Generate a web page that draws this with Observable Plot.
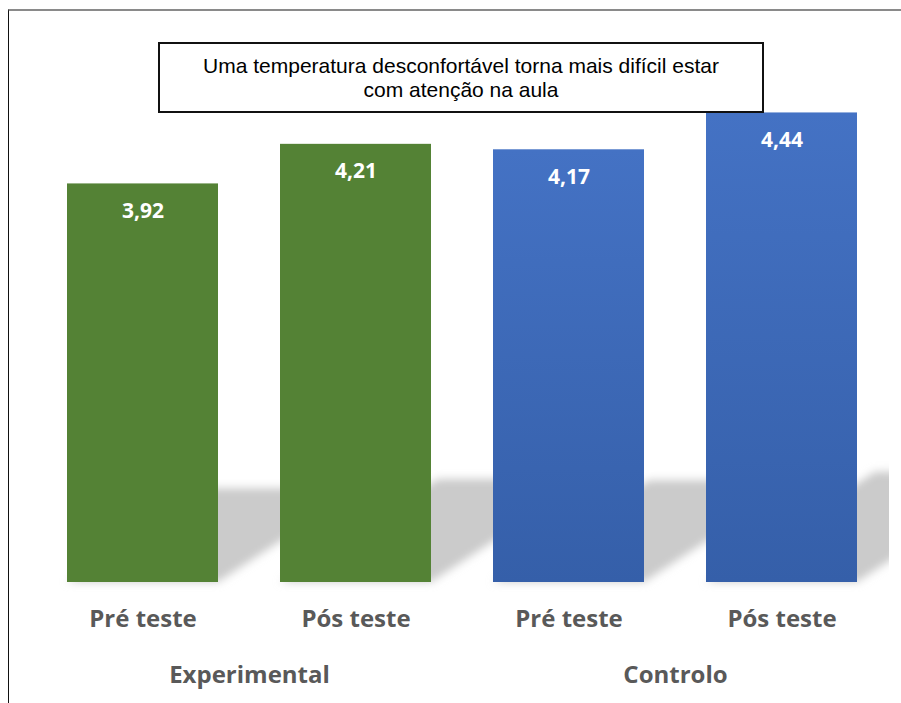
<!DOCTYPE html>
<html><head><meta charset="utf-8">
<script src="https://cdn.jsdelivr.net/npm/d3@7"></script>
<script src="https://cdn.jsdelivr.net/npm/@observablehq/plot@0.6"></script>
<style>
html,body{margin:0;padding:0;background:#fff;}
#wrap{position:relative;width:901px;height:703px;overflow:hidden;}
#chart{position:absolute;left:0;top:0;}
#frame{position:absolute;left:8px;top:9px;width:1000px;height:800px;border-top:2px solid #8a8a8a;border-left:1px solid #111;pointer-events:none;}
#title{position:absolute;left:158px;top:42px;width:602px;height:67px;border:2px solid #111;display:flex;align-items:center;justify-content:center;text-align:center;font-family:"Liberation Sans",Arial,sans-serif;font-size:21px;line-height:24px;color:#000;background:#fff;}
</style></head>
<body>
<div id="wrap"><div id="chart"></div><div id="frame"></div><div id="title">Uma temperatura desconfortável torna mais difícil estar<br>com atenção na aula</div></div>
<script>
const groups = ["Experimental", "Experimental", "Controlo", "Controlo"];
const phases = ["Pré teste", "Pós teste", "Pré teste", "Pós teste"];
const values = [3.92, 4.21, 4.17, 4.44];
const groupNames = ["Experimental", "Controlo"];

const rows = groups.map((g, i) => ({group: g, phase: phases[i], value: values[i], key: g + "|" + phases[i]}));
const groupRows = groupNames.map(g => {
  const r = rows.filter(d => d.group === g);
  return {group: g, first: r[0].key, last: r[r.length - 1].key};
});

function shadowRender(index, scales, vals, dims) {
  const {x, y} = scales;
  const bw = x.bandwidth();
  const yb = y(1);
  const g = d3.create("svg:g");
  const defs = g.append("defs");
  defs.append("filter").attr("id", "shBlur").attr("x", "-20%").attr("y", "-20%").attr("width", "140%").attr("height", "140%")
    .append("feGaussianBlur").attr("stdDeviation", 4);
  defs.append("clipPath").attr("id", "shClip").append("rect")
    .attr("x", dims.marginLeft).attr("y", dims.marginTop)
    .attr("width", dims.width - dims.marginLeft - dims.marginRight)
    .attr("height", dims.height - dims.marginTop - dims.marginBottom + 10);
  const inner = g.append("g").attr("clip-path", "url(#shClip)").append("g").attr("filter", "url(#shBlur)");
  for (const i of index) {
    const d = rows[i];
    const x0 = x(d.key);
    const h = yb - y(d.value);
    const dx = 0.36 * h, dy = 0.235 * h;
    const pts = [[x0, yb], [x0 + bw, yb], [x0 + bw + dx, yb - dy], [x0 + dx, yb - dy]];
    inner.append("polygon").attr("points", pts.map(p => p.join(",")).join(" ")).attr("fill", "#cbcbcb");
  }
  return g.node();
}

function blueRender(index, scales, vals, dims, ctx, next) {
  const g = next(index, scales, vals, dims, ctx);
  const defs = d3.create("svg:defs");
  const lg = defs.append("linearGradient").attr("id", "blueGrad").attr("x1", 0).attr("y1", 0).attr("x2", 0).attr("y2", 1);
  lg.append("stop").attr("offset", "0%").attr("stop-color", "#4472c4");
  lg.append("stop").attr("offset", "100%").attr("stop-color", "#355fa9");
  g.insertBefore(defs.node(), g.firstChild);
  return g;
}

const chart = Plot.plot({
  width: 901,
  height: 703,
  marginLeft: 35,
  marginRight: 12,
  marginTop: 36,
  marginBottom: 121,
  style: {fontFamily: "'Open Sans', sans-serif", background: "transparent"},
  x: {domain: rows.map(d => d.key), paddingInner: 0.293, paddingOuter: 0.145, axis: null},
  y: {domain: [1, 5], axis: null},
  marks: [
    Plot.barY(rows, {x: "key", y1: 1, y2: "value", render: shadowRender}),
    Plot.barY(rows.filter(d => d.group === "Experimental"), {x: "key", y1: 1, y2: "value", fill: "#548235"}),
    Plot.barY(rows.filter(d => d.group === "Controlo"), {x: "key", y1: 1, y2: "value", fill: "url(#blueGrad)", render: blueRender}),
    Plot.text(rows, {x: "key", y: "value", text: d => d.value.toFixed(2).replace(".", ","), dy: 27, lineAnchor: "middle",
      fill: "white", fontWeight: "bold", fontSize: 21}),
    Plot.axisX({tickSize: 0, tickPadding: 27, fontSize: 24, fontWeight: "bold", fill: "#595959", label: null,
      tickFormat: k => k.split("|")[1]}),
    Plot.text(groupRows, {x: "first", text: "group", frameAnchor: "bottom", dy: 93, lineAnchor: "middle",
      fontSize: 24, fontWeight: "bold", fill: "#595959",
      render: (index, scales, vals, dims, ctx, next) => {
        const X = Float64Array.from(vals.x);
        for (const i of index) X[i] = (scales.x(groupRows[i].first) + scales.x(groupRows[i].last)) / 2;
        return next(index, scales, {...vals, x: X}, dims, ctx);
      }})
  ]
});
document.getElementById("chart").appendChild(chart);
</script>
</body></html>
